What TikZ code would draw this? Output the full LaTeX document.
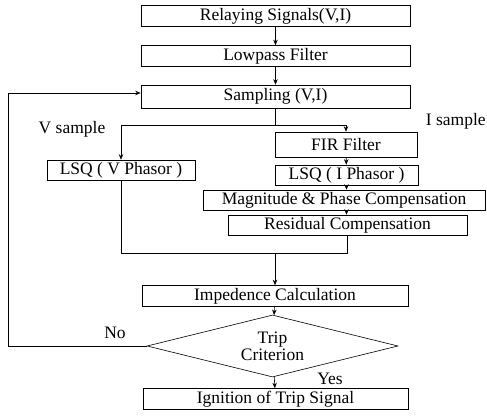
\documentclass[tikz,border=0pt]{standalone}
\usepackage{fontspec}
\setmainfont{Liberation Serif}
\usetikzlibrary{shapes.geometric, arrows.meta}
\tikzset{>={Stealth[length=5.5pt,width=4.5pt]}}
\tikzset{blk/.style={draw, line width=0.6pt, inner sep=0pt, minimum height=21pt,
    font=\fontsize{17.5}{19}\selectfont}}
\tikzset{lbl/.style={inner sep=0pt, font=\fontsize{17.5}{19}\selectfont}}

\begin{document}
\begin{tikzpicture}[x=1pt, y=-1pt, line width=0.6pt]
      \useasboundingbox (0,0) rectangle (487,419);

      \node[blk, minimum width=269pt] (relay) at (275.5,16) {Relaying Signals(V,I)};
      \node[blk, minimum width=269pt] (lowpass) at (275.5,56) {Lowpass Filter};
      \node[blk, minimum width=269pt, minimum height=23pt] (sampling) at (275.5,96.5) {Sampling (V,I)};
      \node[blk, minimum width=142pt, minimum height=25pt] (fir) at (346,144.5) {FIR Filter};
      \node[blk, minimum width=148pt, minimum height=20pt] (lsqv) at (121,170) {LSQ ( V Phasor )};
      \node[blk, minimum width=143pt, minimum height=20pt] (lsqi) at (346.5,175) {LSQ ( I Phasor )};
      \node[blk, minimum width=282pt, minimum height=20pt] (magn) at (344,200) {Magnitude \& Phase Compensation};
      \node[blk, minimum width=239pt, minimum height=20pt] (resid) at (347.5,225) {Residual Compensation};
      \node[blk, minimum width=266pt] (imped) at (275,296) {Impedence Calculation};
      \node[blk, diamond, aspect=4, minimum width=251pt, minimum height=62pt, align=center,
        font=\fontsize{17.5}{17}\selectfont] (trip) at (272.5,346) {Trip\\Criterion};
      \node[blk, minimum width=265pt] (ignit) at (275.5,399) {Ignition of Trip Signal};

      \draw[->] (relay) -- (lowpass);
      \draw[->] (lowpass) -- (sampling);

      % split into V and I samples
      \draw (sampling.south) -- ++(0,17) coordinate (split);
      \draw[->] (split) -| (lsqv.north);
      \draw[->] (split) -| (fir.north);
      \draw[->] (fir) -- (lsqi);
      \draw[->] (lsqi.south) -- (lsqi.south |- magn.north);
      \draw[->] (lsqi.south |- magn.south) -- (lsqi.south |- resid.north);

      % join both branches
      \coordinate (join) at (275,253);
      \draw (lsqv.south) |- (join);
      \draw (resid.south) |- (join);
      \draw[->] (join) -- (imped.north);
      \draw[->] (imped) -- (trip);
      \draw[->] (trip) -- (ignit);

      % feedback
      \coordinate (fb) at (8,93);
      \draw[->] (trip.west) -| (fb) -- (fb -| sampling.west);

      \node[lbl] (vs) at (72,129) {V sample};
      \node[lbl, anchor=east] (is) at (486,121) {I sample};
      \node[lbl] (no) at (115,333) {No};
      \node[lbl] (yes) at (330,379) {Yes};
\end{tikzpicture}
\end{document}
